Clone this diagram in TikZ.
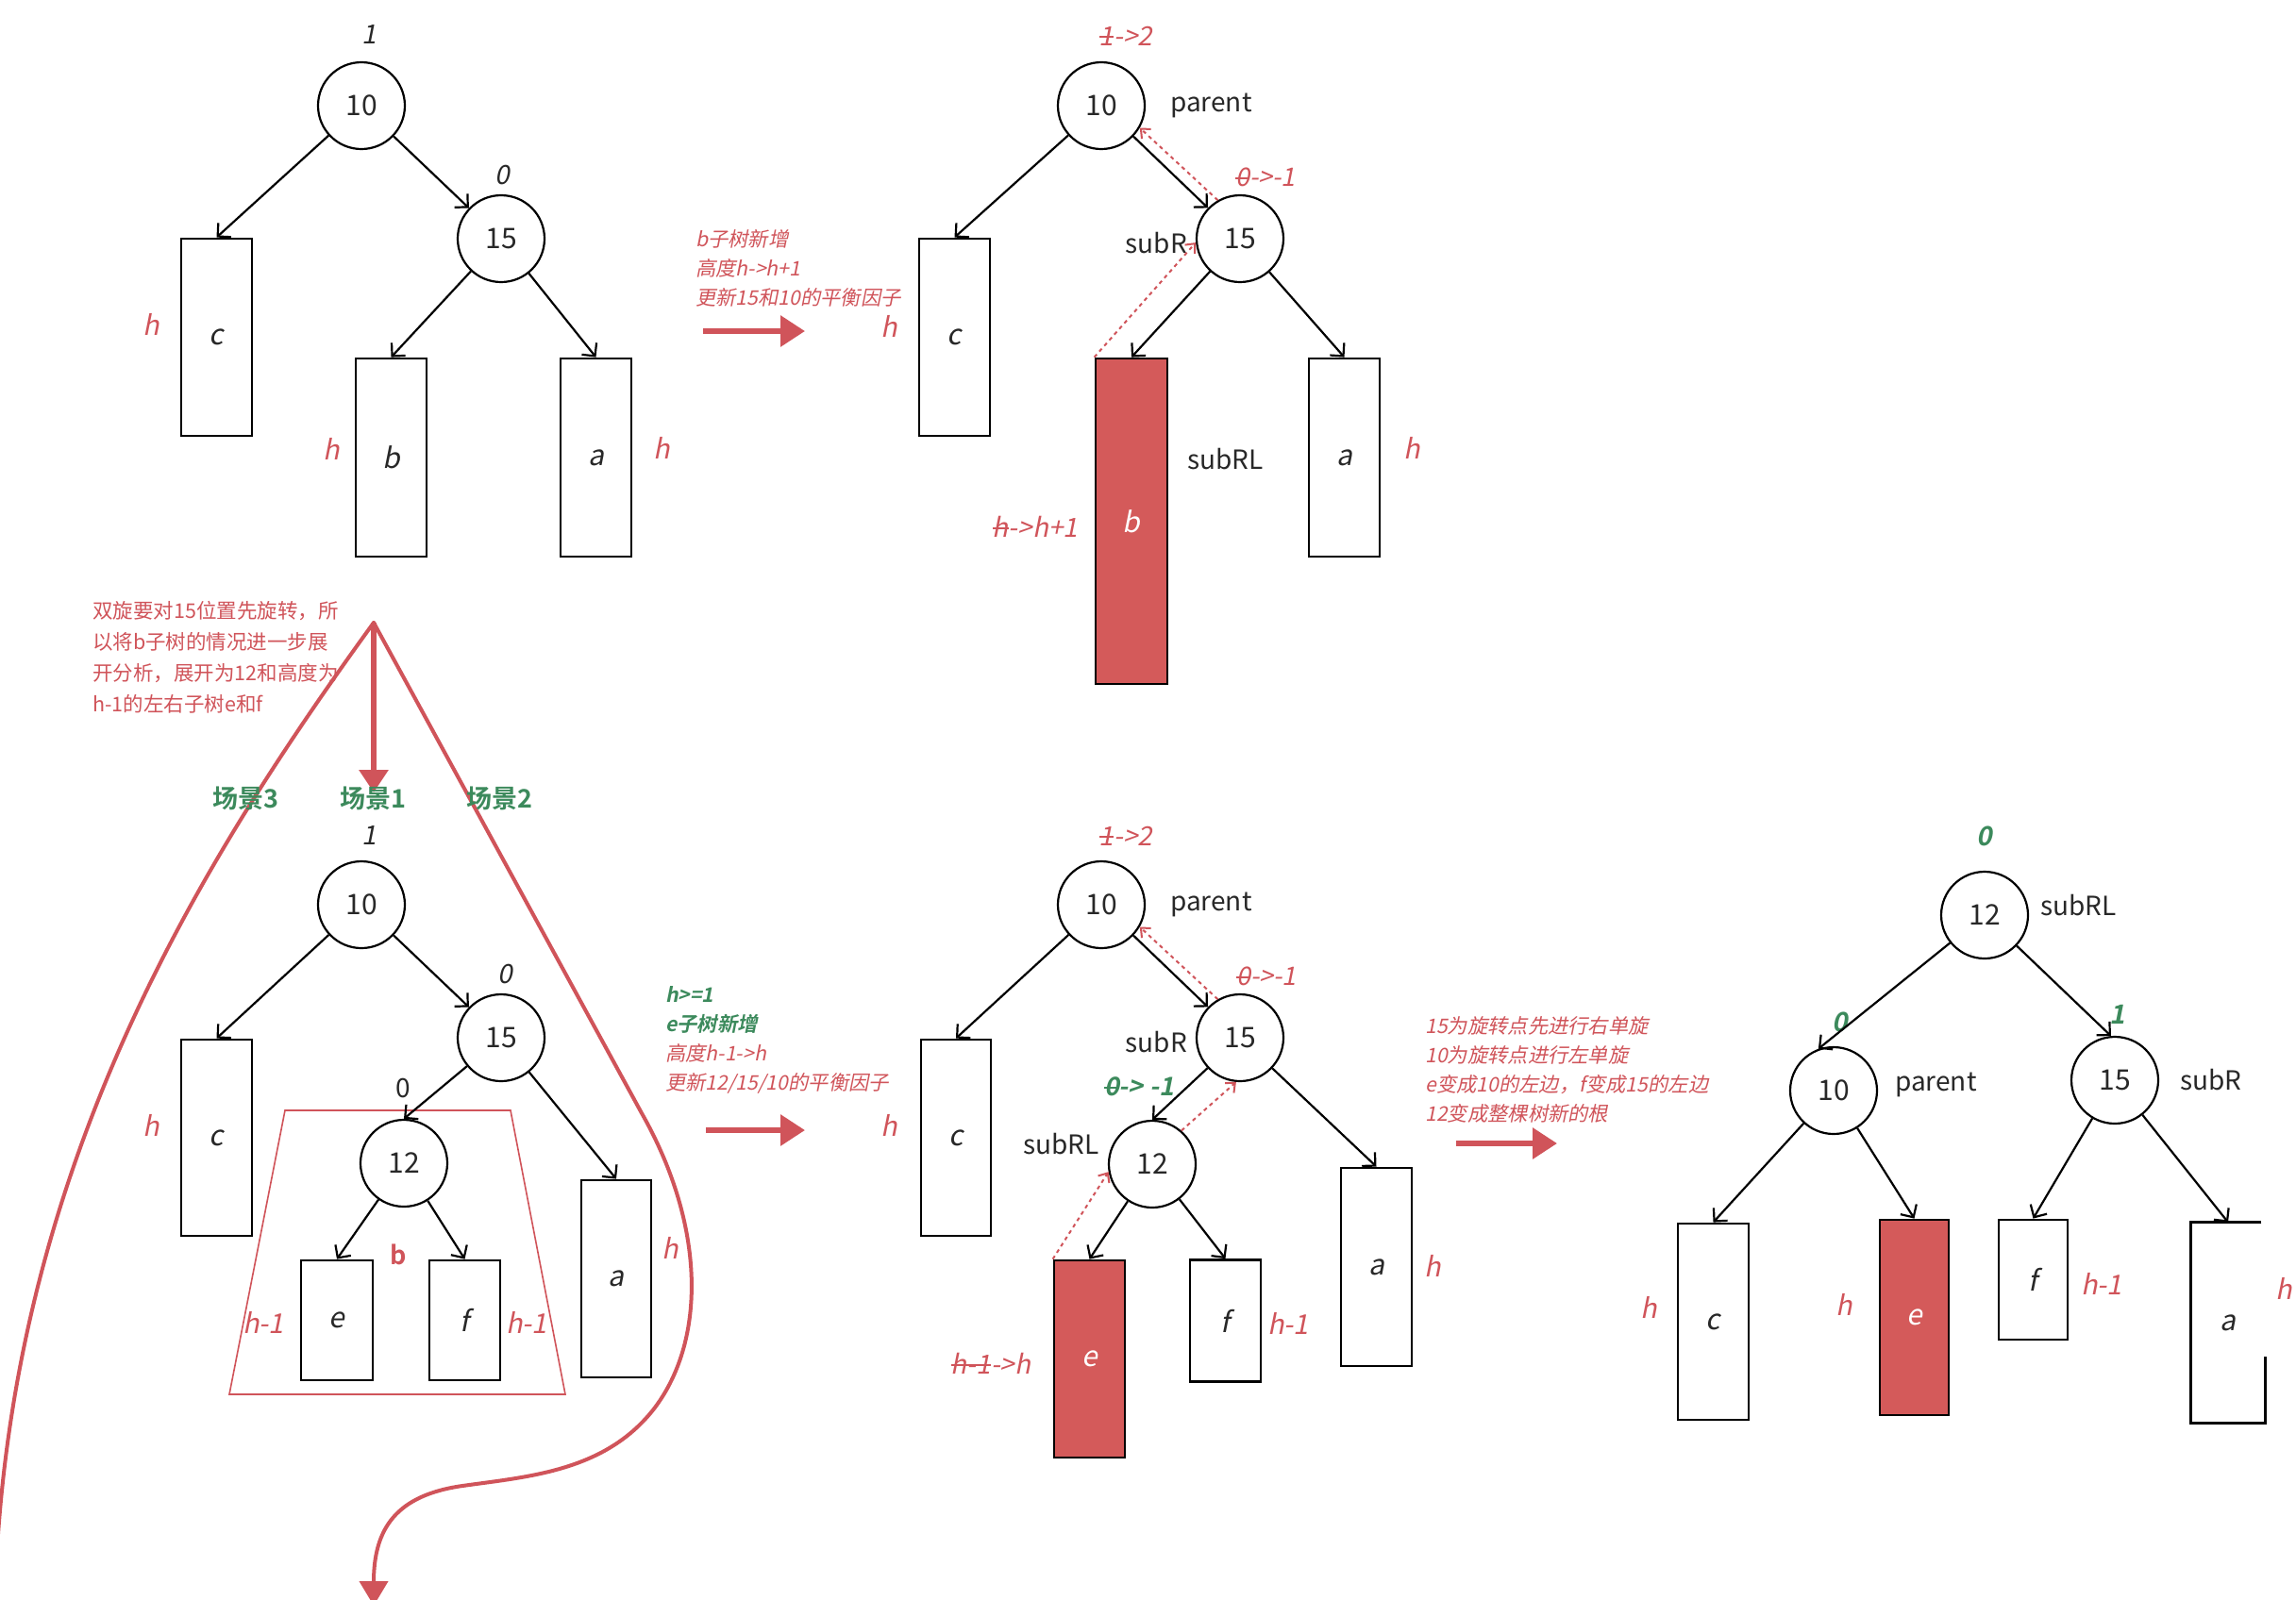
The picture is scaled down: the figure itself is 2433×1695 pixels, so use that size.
\documentclass[tikz,border=0pt]{standalone}
\usepackage{fontspec}
\usetikzlibrary{arrows.meta}
\setmainfont{Noto Sans CJK SC}
\newfontfamily\cjkit{Noto Sans CJK SC}[FakeSlant=0.2]
\newfontfamily\cjkbf{Noto Sans CJK SC Bold}
\newfontfamily\cjkbfit{Noto Sans CJK SC Bold}[FakeSlant=0.2]
\definecolor{myred}{RGB}{208,84,90}
\definecolor{boxred}{RGB}{212,90,90}
\definecolor{mygreen}{RGB}{60,138,92}
\definecolor{ink}{RGB}{40,40,40}
\newcommand\strk[1]{\setbox0=\hbox{#1}\rlap{\rule[0.3em]{\wd0}{0.07em}}\box0}
\tikzset{
  circ/.style={circle, draw, line width=2.2pt, minimum size=92pt, inner sep=0pt, text=ink, font=\fontsize{30}{36}\selectfont},
  tbox/.style={draw, line width=2.8pt, inner sep=0pt, text=ink, font=\cjkit\fontsize{30}{36}\selectfont},
  redbox/.style={tbox, fill=boxred, text=white},
  conn/.style={line width=2.2pt, -{Straight Barb[length=10pt,width=20pt]}},
  dotarrow/.style={myred, line width=2pt, dash pattern=on 4pt off 4pt, -{Straight Barb[length=8pt,width=14pt]}},
  bigarrow/.style={myred, line width=6pt, -{Triangle[length=26pt,width=32pt]}},
  lbl/.style={inner sep=0pt, text=ink, font=\cjkit\fontsize{28}{34}\selectfont},
  hlbl/.style={inner sep=0pt, text=myred, font=\cjkit\fontsize{29}{34}\selectfont},
  glbl/.style={inner sep=0pt, text=mygreen, font=\cjkbfit\fontsize{28}{34}\selectfont},
  tag/.style={inner sep=0pt, text=ink, font=\fontsize{28}{34}\selectfont},
  note/.style={inner sep=0pt, align=left, anchor=west, text=myred, font=\cjkit\fontsize{21.3}{31}\selectfont},
  scene/.style={inner sep=0pt, text=mygreen, font=\cjkbf\fontsize{27}{32}\selectfont},
  bigline/.style={myred, line width=4pt, line cap=round},
}
\begin{document}
\begin{tikzpicture}[x=1pt, y=-1pt]
\fill[white] (0,0) rectangle (2433,1695);
\useasboundingbox (0,0) rectangle (2433,1695);

% ---------- Tree A (top-left)
\node[circ] (a10) at (383,112) {10};
\node[circ] (a15) at (531,253) {15};
\node[tbox, minimum width=75pt, minimum height=209pt] (ac) at (229.5,357.5) {c};
\node[tbox, minimum width=75pt, minimum height=210pt] (ab) at (414.5,485) {b};
\node[tbox, minimum width=75pt, minimum height=210pt] (aa) at (631.5,485) {a};
\node[lbl] (a1l) at (391,37) {1};
\node[lbl] (a0l) at (532,186) {0};
\node[hlbl] (ah1) at (160,344) {h};
\node[hlbl] (ah2) at (351,476) {h};
\node[hlbl] (ah3) at (701,475) {h};
\draw[conn] (a10) -- (ac.north);
\draw[conn] (a10) -- (a15);
\draw[conn] (a15) -- (ab.north);
\draw[conn] (a15) -- (aa.north);

% ---------- arrow 1 + note
\coordinate (r1s) at (745,351);
\coordinate (r1e) at (853,351);
\draw[bigarrow] (r1s) -- (r1e);
\node[note] (t1) at (737,284) {b子树新增\\高度h->h+1\\更新15和10的平衡因子};

% ---------- Tree B (top-middle)
\node[circ] (b10) at (1167,112) {10};
\node[circ] (b15) at (1314,253) {15};
\node[tbox, minimum width=75pt, minimum height=209pt] (bc) at (1011.5,357.5) {c};
\node[redbox, minimum width=76pt, minimum height=345pt] (bb) at (1199,552.5) {b};
\node[tbox, minimum width=75pt, minimum height=210pt] (ba) at (1424.5,485) {a};
\node[hlbl, font=\cjkit\fontsize{28}{34}\selectfont] (b12l) at (1193,38) {\strk{1}->2};
\node[tag, anchor=west] (bpar) at (1240,112) {parent};
\node[hlbl, font=\cjkit\fontsize{27}{34}\selectfont] (b01l) at (1341,188) {\strk{0}->-1};
\node[tag, anchor=east] (bsubr) at (1258,258) {subR};
\node[tag, anchor=west] (bsubrl) at (1258,487) {subRL};
\node[hlbl] (bh1) at (942,346) {h};
\node[hlbl, font=\cjkit\fontsize{28}{34}\selectfont] (bhh) at (1097,558) {\strk{h}->h+1};
\node[hlbl] (bh3) at (1496,475) {h};
\draw[conn] (b10) -- (bc.north);
\draw[conn] (b10) -- (b15);
\draw[conn] (b15) -- (bb.north);
\draw[conn] (b15) -- (ba.north);
\draw[dotarrow] (b15.120) -- (b10.-30);
\draw[dotarrow] (bb.north west) -- (b15.185);

% ---------- explanation + big red strokes
\node[note, font=\fontsize{21.5}{33}\selectfont] (t2) at (98,697) {双旋要对15位置先旋转，所\\以将b子树的情况进一步展\\开分析，展开为12和高度为\\h-1的左右子树e和f};
\coordinate (apex) at (396,660);
\coordinate (vtip) at (396,840);
\coordinate (lend) at (-6,1720);
\coordinate (rbend) at (680,1180);
\coordinate (ctip) at (396,1702);
\draw[bigline] (apex) .. controls (200,930) and (0,1260) .. (lend);
\draw[bigline, -{Triangle[length=26pt,width=30pt]}] (apex) -- (rbend) .. controls (748,1300) and (748,1420) .. (694,1492) .. controls (642,1560) and (560,1565) .. (490,1575) .. controls (420,1585) and (396,1620) .. (ctip);
\draw[myred, line width=6pt, -{Triangle[length=24pt,width=30pt]}] (apex) -- (vtip);
\node[scene] (s3) at (260,846) {场景3};
\node[scene] (s1) at (395,846) {场景1};
\node[scene] (s2) at (529,846) {场景2};

% ---------- Tree C (bottom-left)
\draw[myred, line width=1.6pt] (302,1177) -- (541,1177) -- (599,1478) -- (243,1478) -- cycle;
\node[circ] (c10) at (383,959) {10};
\node[circ] (c15) at (531,1100) {15};
\node[circ] (c12) at (428,1233) {12};
\node[tbox, minimum width=75pt, minimum height=208pt] (cc) at (229.5,1206) {c};
\node[tbox, minimum width=76pt, minimum height=127pt] (ce) at (357,1399.5) {e};
\node[tbox, minimum width=75pt, minimum height=127pt] (cf) at (492.5,1399.5) {f};
\node[tbox, minimum width=74pt, minimum height=209pt] (ca) at (653,1355.5) {a};
\node[lbl] (c1l) at (391,886) {1};
\node[lbl] (c0l) at (535,1033) {0};
\node[tag] (c0u) at (427,1153) {0};
\node[hlbl] (ch1) at (160,1193) {h};
\node[hlbl] (ch2) at (279,1402) {h-1};
\node[hlbl] (ch3) at (558,1402) {h-1};
\node[hlbl] (ch4) at (710,1323) {h};
\node[inner sep=0pt, text=myred, font=\cjkbf\fontsize{27}{32}\selectfont] (cbl) at (422,1330) {b};
\draw[conn] (c10) -- (cc.north);
\draw[conn] (c10) -- (c15);
\draw[conn] (c15) -- (c12.north);
\draw[conn] (c15) -- (ca.north);
\draw[conn] (c12) -- (ce.north);
\draw[conn] (c12) -- (cf.north);

% ---------- arrow 2 + note
\coordinate (r2s) at (748,1198);
\coordinate (r2e) at (853,1198);
\draw[bigarrow] (r2s) -- (r2e);
\node[note] (t3) at (705,1102) {{\color{mygreen}\cjkbfit h>=1}\\{\color{mygreen}\cjkbfit e子树新增}\\高度h-1->h\\更新12/15/10的平衡因子};

% ---------- Tree D (bottom-middle)
\node[circ] (d10) at (1167,959) {10};
\node[circ] (d15) at (1314,1100) {15};
\node[circ] (d12) at (1221,1234) {12};
\node[tbox, minimum width=74pt, minimum height=208pt] (dc) at (1013,1206) {c};
\node[redbox, minimum width=75pt, minimum height=209pt] (de) at (1154.5,1440.5) {e};
\node[tbox, minimum width=75pt, minimum height=129pt] (df) at (1298.5,1400) {f};
\node[tbox, minimum width=75pt, minimum height=210pt] (da) at (1458.5,1343) {a};
\node[hlbl, font=\cjkit\fontsize{28}{34}\selectfont] (d12l) at (1193,886) {\strk{1}->2};
\node[tag, anchor=west] (dpar) at (1240,959) {parent};
\node[hlbl, font=\cjkit\fontsize{27}{34}\selectfont] (d01l) at (1342,1035) {\strk{0}->-1};
\node[tag, anchor=east] (dsubr) at (1258,1105) {subR};
\node[tag, anchor=east] (dsubrl) at (1165,1213) {subRL};
\node[glbl, font=\cjkbfit\fontsize{27}{34}\selectfont] (dg) at (1207,1152) {\strk{0} -> -1};
\node[hlbl] (dh1) at (942,1193) {h};
\node[hlbl, font=\cjkit\fontsize{28}{34}\selectfont] (dhh) at (1050,1445) {\strk{h-1}->h};
\node[hlbl] (dh2) at (1365,1403) {h-1};
\node[hlbl] (dh3) at (1518,1342) {h};
\draw[conn] (d10) -- (dc.north);
\draw[conn] (d10) -- (d15);
\draw[conn] (d15) -- (d12.north);
\draw[conn] (d15) -- (da.north);
\draw[conn] (d12) -- (de.north);
\draw[conn] (d12) -- (df.north);
\draw[dotarrow] (d15.120) -- (d10.-30);
\draw[dotarrow] (d12.49) -- (d15.-95);
\draw[dotarrow] (de.north west) -- (d12.190);

% ---------- arrow 3 + note
\coordinate (r3s) at (1543,1212);
\coordinate (r3e) at (1650,1212);
\draw[bigarrow] (r3s) -- (r3e);
\node[note] (t4) at (1510,1134) {15为旋转点先进行右单旋\\10为旋转点进行左单旋\\e变成10的左边，f变成15的左边\\12变成整棵树新的根};

% ---------- Tree E (bottom-right)
\node[circ] (e12) at (2103,970) {12};
\node[circ] (e10) at (1943,1156) {10};
\node[circ] (e15) at (2241,1145) {15};
\node[tbox, minimum width=75pt, minimum height=208pt] (ec) at (1815.5,1401) {c};
\node[redbox, minimum width=73pt, minimum height=207pt] (ee) at (2028.5,1396.5) {e};
\node[tbox, minimum width=73pt, minimum height=127pt] (ef) at (2154.5,1356.5) {f};
\node[tbox, draw=none, minimum width=76pt, minimum height=210pt] (ea) at (2361,1402) {a};
\draw[line width=2.8pt] ([xshift=-4pt]ea.north east) -- (ea.north west) -- (ea.south west) -- (ea.south east) -- ([yshift=70pt]ea.south east);
\node[glbl] (eg0) at (2103,886) {0};
\node[glbl] (eg1) at (1950,1083) {0};
\node[glbl] (eg2) at (2244,1075) {1};
\node[tag, anchor=west] (esubrl) at (2162,960) {subRL};
\node[tag, anchor=west] (epar) at (2008,1150) {parent};
\node[tag, anchor=west] (esubr) at (2310,1145) {subR};
\node[hlbl] (eh1) at (1747,1386) {h};
\node[hlbl] (eh2) at (1954,1383) {h};
\node[hlbl] (eh3) at (2227,1361) {h-1};
\node[hlbl] (eh4) at (2420,1366) {h};
\draw[conn] (e12) -- (e10.110);
\draw[conn] (e12) -- (e15.95);
\draw[conn] (e10) -- (ec.north);
\draw[conn] (e10) -- (ee.north);
\draw[conn] (e15) -- (ef.north);
\draw[conn] (e15) -- (ea.north);
\end{tikzpicture}
\end{document}
